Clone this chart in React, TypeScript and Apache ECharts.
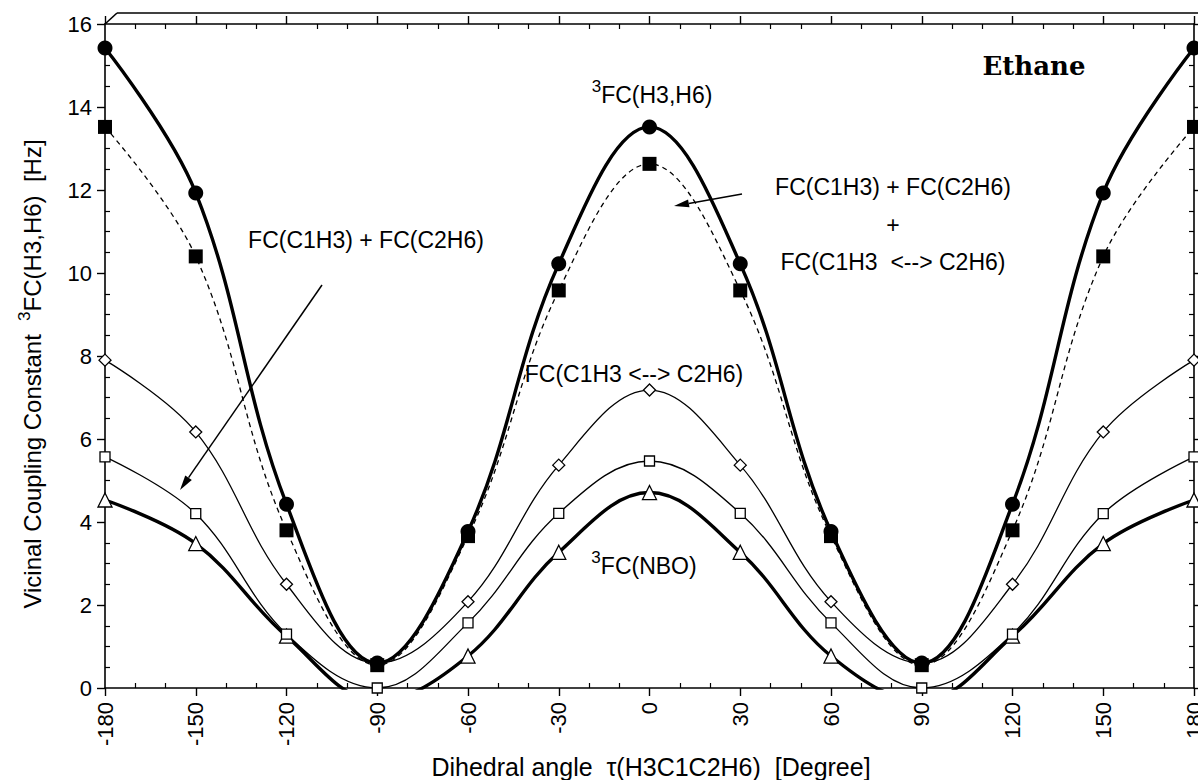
import React, { useEffect, useRef } from "react";
import * as echarts from "echarts";

// Dihedral angle tau(H3C1C2H6) in degrees
const angles = [-180, -150, -120, -90, -60, -30, 0, 30, 60, 90, 120, 150, 180];
// 3FC(H3,H6) total (filled circles, thick solid)
const fcTotal = [15.42, 11.93, 4.43, 0.6, 3.77, 10.22, 13.52, 10.22, 3.77, 0.6, 4.43, 11.93, 15.42];
// FC(C1H3)+FC(C2H6)+FC(C1H3<-->C2H6) (filled squares, dashed)
const fcSumInter = [13.52, 10.4, 3.8, 0.55, 3.66, 9.58, 12.63, 9.58, 3.66, 0.55, 3.8, 10.4, 13.52];
// FC(C1H3<-->C2H6) (open diamonds, thin)
const fcInter = [7.9, 6.17, 2.5, 0.6, 2.08, 5.37, 7.18, 5.37, 2.08, 0.6, 2.5, 6.17, 7.9];
// FC(C1H3)+FC(C2H6) (open squares, thin)
const fcSum = [5.57, 4.2, 1.3, 0.0, 1.57, 4.21, 5.47, 4.21, 1.57, 0.0, 1.3, 4.2, 5.57];
// 3FC(NBO) (open triangles, thick)
const fcNbo = [4.53, 3.48, 1.25, -0.3, 0.77, 3.27, 4.71, 3.27, 0.77, -0.3, 1.25, 3.48, 4.53];

const xTicks = { min: -180, max: 180, interval: 30 };
const yTicks = { min: 0, max: 16, interval: 2 };

const FONT = '"Liberation Sans", Arial, Helvetica, sans-serif';
const SMOOTH = 0.38;

function arrow(x1: number, y1: number, x2: number, y2: number, headLen = 15, headW = 4) {
  const dx = x2 - x1, dy = y2 - y1;
  const L = Math.hypot(dx, dy);
  const ux = dx / L, uy = dy / L;
  const bx = x2 - ux * headLen, by = y2 - uy * headLen;
  const px = -uy * headW, py = ux * headW;
  return [
    { type: "line", shape: { x1, y1, x2: bx, y2: by }, style: { stroke: "#000", lineWidth: 1.5 }, z: 100 },
    { type: "polygon", shape: { points: [[x2, y2], [bx + px, by + py], [bx - px, by - py]] }, style: { fill: "#000" }, z: 100 },
  ];
}

function richSup(x: number, y: number, text: string, size: number, rotation = 0) {
  return {
    type: "text",
    x, y, rotation,
    z: 100,
    style: {
      text,
      align: "center",
      verticalAlign: "middle",
      fill: "#000",
      rich: {
        s: { fontSize: Math.round(size * 0.72), lineHeight: 14, verticalAlign: "top", fontFamily: FONT, fill: "#000" },
        m: { fontSize: size, lineHeight: 28, verticalAlign: "bottom", fontFamily: FONT, fill: "#000" },
      },
    },
  };
}

function plainText(x: number, y: number, text: string, size = 23, extra: any = {}) {
  return {
    type: "text", x, y, z: 100,
    style: { text, fontSize: size, fontFamily: FONT, fill: "#000", align: "center", verticalAlign: "middle", ...extra },
  };
}

export default function App() {
  const ref = useRef<HTMLDivElement>(null);
  useEffect(() => {
    if (!ref.current) return;
    const chart = echarts.init(ref.current, undefined, { renderer: "svg" });
    const mk = (vals: number[], symbol: string, size: number, lineWidth: number, filled: boolean, dashed = false, z = 2) => ({
      type: "line",
      data: angles.map((a, i) => [a, vals[i]]),
      smooth: SMOOTH,
      symbol,
      symbolSize: size,
      clip: true,
      z,
      lineStyle: { color: "#000", width: lineWidth, type: dashed ? [5, 4] : "solid" },
      itemStyle: filled
        ? { color: "#000", borderColor: "#000", borderWidth: 0 }
        : { color: "#fff", borderColor: "#000", borderWidth: 1.3 },
      emphasis: { disabled: true },
    });
    const axisCommon = {
      type: "value",
      axisLine: { show: true, onZero: false, lineStyle: { color: "#000", width: 1.6 } },
      axisTick: { show: true, inside: false, length: 8, lineStyle: { color: "#000", width: 1.4 } },
      minorTick: { show: true, length: -5, lineStyle: { color: "#000", width: 1.2 } },
      splitLine: { show: false },
      minorSplitLine: { show: false },
    };
    chart.setOption({
      animation: false,
      backgroundColor: "#fff",
      grid: { left: 105, right: 4, top: 24, bottom: 92, containLabel: false, outerBoundsMode: "none" },
      xAxis: [
        {
          ...axisCommon,
          position: "bottom",
          ...xTicks,
          minorTick: { ...axisCommon.minorTick, splitNumber: 3 },
          axisLabel: { show: true, rotate: 90, margin: 14, fontSize: 22, fontFamily: FONT, color: "#000" },
        },
        {
          ...axisCommon,
          position: "top",
          ...xTicks,
          minorTick: { ...axisCommon.minorTick, splitNumber: 3 },
          axisLabel: { show: false },
        },
      ],
      yAxis: [
        {
          ...axisCommon,
          position: "left",
          ...yTicks,
          minorTick: { ...axisCommon.minorTick, splitNumber: 4 },
          axisLabel: { show: true, margin: 13, fontSize: 22, fontFamily: FONT, color: "#000" },
        },
        {
          ...axisCommon,
          position: "right",
          ...yTicks,
          minorTick: { ...axisCommon.minorTick, splitNumber: 4 },
          axisLabel: { show: false },
        },
      ],
      series: [
        mk(fcNbo, "triangle", 14, 3.4, false, false, 2),
        mk(fcSum, "rect", 10, 1.3, false, false, 3),
        mk(fcInter, "diamond", 12, 1.3, false, false, 4),
        mk(fcSumInter, "rect", 14, 1.3, true, true, 5),
        mk(fcTotal, "circle", 15, 3.4, true, false, 6),
      ],
      graphic: [
        // top frame decoration
        { type: "line", shape: { x1: 105, y1: 24, x2: 117, y2: 13 }, style: { stroke: "#000", lineWidth: 1.6 } },
        { type: "line", shape: { x1: 117, y1: 13, x2: 1198, y2: 13 }, style: { stroke: "#000", lineWidth: 1.6 } },
        {
          type: "text", x: 1034, y: 66, z: 100,
          style: { text: "Ethane", fontSize: 26, fontWeight: "bold", fontFamily: '"DejaVu Serif", "Liberation Serif", serif', fill: "#000", align: "center", verticalAlign: "middle" },
        },
        richSup(652, 92, "{s|3}{m|FC(H3,H6)}", 23),
        plainText(893, 187, "FC(C1H3) + FC(C2H6)"),
        plainText(893, 225, "+"),
        plainText(893, 262, "FC(C1H3  <--> C2H6)"),
        ...arrow(742, 194, 674, 206),
        plainText(366, 240, "FC(C1H3) + FC(C2H6)"),
        ...arrow(322, 285, 180, 490),
        plainText(634, 374, "FC(C1H3 <--> C2H6)"),
        richSup(644, 563, "{s|3}{m|FC(NBO)}", 23),
        richSup(30, 374, "{m|Vicinal Coupling Constant  }{s|3}{m|FC(H3,H6)  [Hz]}", 24, Math.PI / 2),
        plainText(651, 767, "Dihedral angle  \u03c4(H3C1C2H6)  [Degree]", 25),
      ],
    });
    return () => chart.dispose();
  }, []);
  return <div ref={ref} style={{ position: "fixed", left: 0, top: 0, width: 1198, height: 780, background: "#fff" }} />;
}
